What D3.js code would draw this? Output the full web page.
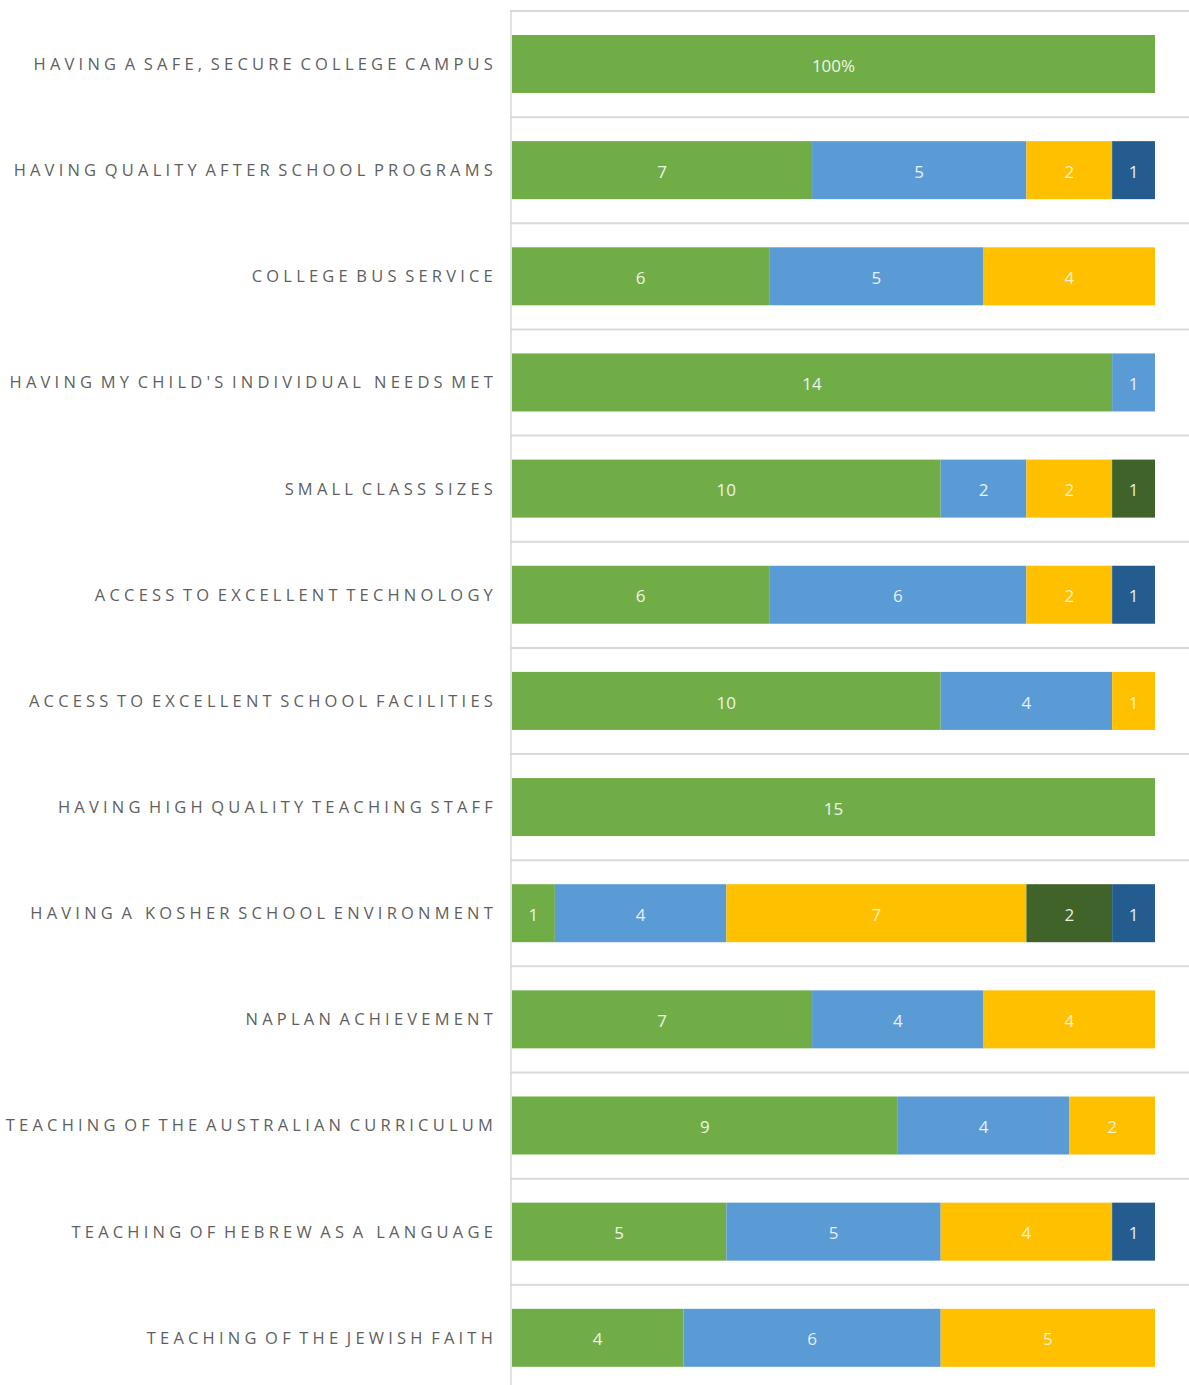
<!DOCTYPE html>
<html><head><meta charset="utf-8">
<script src="https://cdn.jsdelivr.net/npm/d3@7"></script>
<style>html,body{margin:0;padding:0;background:#fff;}svg{display:block;}</style>
</head><body>
<svg id="chart" width="1189" height="1385"></svg>
<script>
const categories = [
  "HAVING A SAFE, SECURE COLLEGE CAMPUS",
  "HAVING QUALITY AFTER SCHOOL PROGRAMS",
  "COLLEGE BUS SERVICE",
  "HAVING MY CHILD'S INDIVIDUAL  NEEDS MET",
  "SMALL CLASS SIZES",
  "ACCESS TO EXCELLENT TECHNOLOGY",
  "ACCESS TO EXCELLENT SCHOOL FACILITIES",
  "HAVING HIGH QUALITY TEACHING STAFF",
  "HAVING A  KOSHER SCHOOL ENVIRONMENT",
  "NAPLAN ACHIEVEMENT",
  "TEACHING OF THE AUSTRALIAN CURRICULUM",
  "TEACHING OF HEBREW AS A  LANGUAGE",
  "TEACHING OF THE JEWISH FAITH"
];
const seriesGreen     = [15, 7, 6, 14, 10, 6, 10, 15, 1, 7, 9, 5, 4];
const seriesLightBlue = [0, 5, 5, 1, 2, 6, 4, 0, 4, 4, 4, 5, 6];
const seriesGold      = [0, 2, 4, 0, 2, 2, 1, 0, 7, 4, 2, 4, 5];
const seriesDarkGreen = [0, 0, 0, 0, 1, 0, 0, 0, 2, 0, 0, 0, 0];
const seriesDarkBlue  = [0, 1, 0, 0, 0, 1, 0, 0, 1, 0, 0, 1, 0];
const labelOverrides  = {"0-0": "100%"};
const xMax = 15;

const seriesDefs = [
  {key: "green", values: seriesGreen, color: "#70AD47", text: "#EEF6E8"},
  {key: "lightblue", values: seriesLightBlue, color: "#5B9BD5", text: "#E6F0FA"},
  {key: "gold", values: seriesGold, color: "#FFC000", text: "#FFF3CF"},
  {key: "darkgreen", values: seriesDarkGreen, color: "#3F6328", text: "#E6F0DE"},
  {key: "darkblue", values: seriesDarkBlue, color: "#245C8F", text: "#E6F0FA"}
];

const svg = d3.select("#chart");
const step = 106.15;
const top0 = 11;
const y = d3.scaleBand().domain(categories).range([top0, top0 + step * categories.length]).padding(0);
const x = d3.scaleLinear().domain([0, xMax]).range([512, 1155]);
const barH = 58;
const barOff = 24;

// gridlines (band boundaries)
const gl = svg.append("g");
const bounds = categories.map(c => y(c));
gl.selectAll("line.h").data(bounds).join("line")
  .attr("x1", 510).attr("x2", 1189)
  .attr("y1", d => d).attr("y2", d => d)
  .attr("stroke", "#D9D9D9").attr("stroke-width", 2);
gl.append("line").attr("x1", 511).attr("x2", 511).attr("y1", top0).attr("y2", 1385)
  .attr("stroke", "#D9D9D9").attr("stroke-width", 1.5);

// stacked data
const rows = categories.map((c, i) => {
  let acc = 0;
  return seriesDefs.map((s, si) => {
    const v = s.values[i];
    const seg = {cat: c, i, si, v, x0: acc, x1: acc + v, color: s.color, text: s.text};
    acc += v;
    return seg;
  }).filter(d => d.v > 0);
}).flat();

const bars = svg.append("g");
bars.selectAll("rect").data(rows).join("rect")
  .attr("x", d => x(d.x0))
  .attr("width", d => x(d.x1) - x(d.x0))
  .attr("y", d => y(d.cat) + barOff)
  .attr("height", barH)
  .attr("fill", d => d.color);

bars.selectAll("text").data(rows).join("text")
  .attr("x", d => (x(d.x0) + x(d.x1)) / 2)
  .attr("y", d => y(d.cat) + barOff + barH / 2 + 1.5)
  .attr("dy", "0.36em")
  .attr("text-anchor", "middle")
  .attr("font-family", "'Open Sans', sans-serif")
  .attr("font-size", 17)
  .attr("fill", d => d.text)
  .text(d => labelOverrides[d.i + "-" + d.si] || d.v);

// category labels
const yAxis = d3.axisLeft(y).tickSize(0).tickPadding(0);
const ag = svg.append("g").attr("transform", "translate(497,0)").call(yAxis);
ag.select(".domain").remove();
ag.selectAll("text")
  .attr("y", barOff + barH / 2 - step / 2)
  .attr("dy", "0.36em")
  .attr("font-family", "'Open Sans', sans-serif")
  .attr("font-size", 16.5)
  .attr("letter-spacing", "4.2px")
  .attr("word-spacing", "-4px")
  .attr("fill", "#5F5F5F")
  .style("white-space", "pre");
</script>
</body></html>
